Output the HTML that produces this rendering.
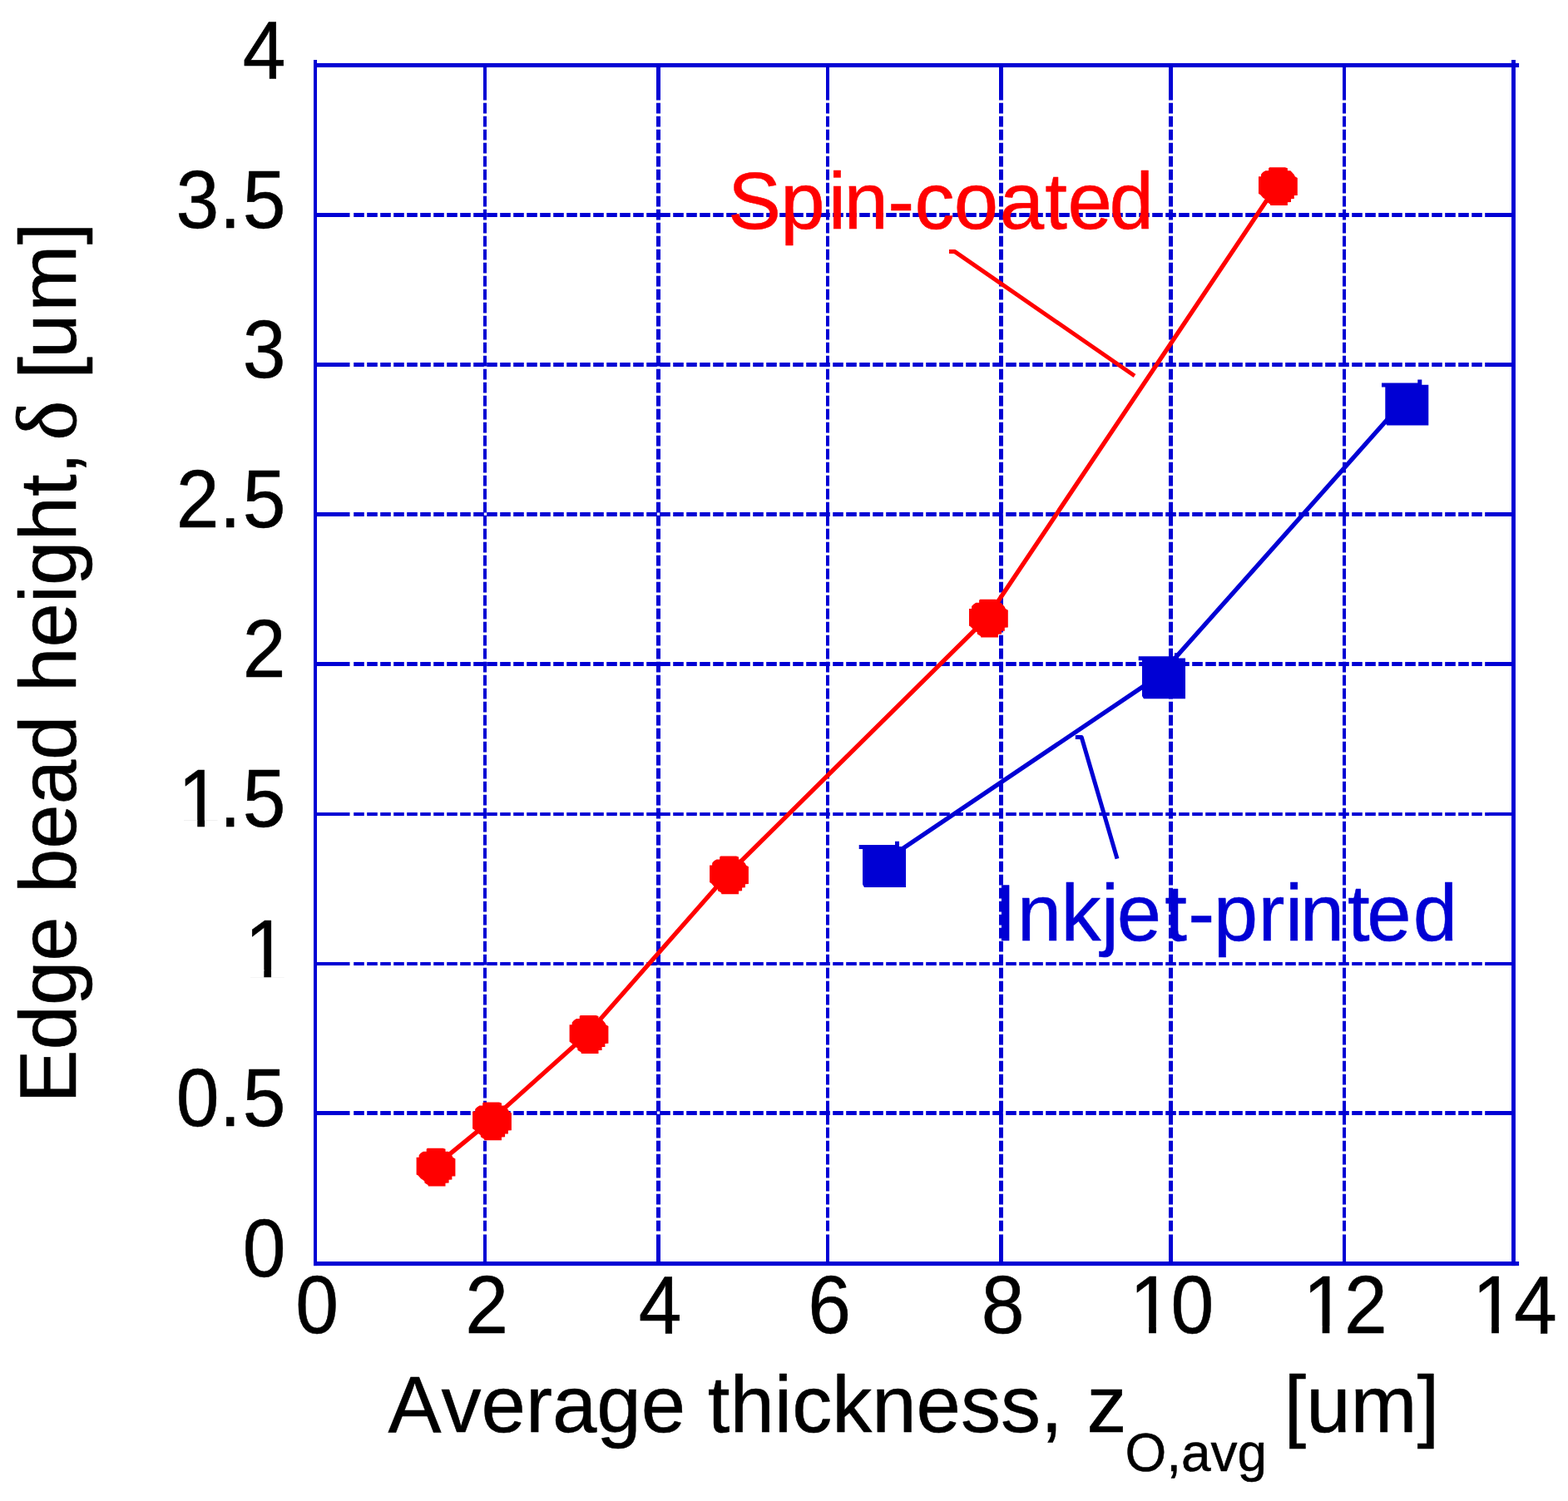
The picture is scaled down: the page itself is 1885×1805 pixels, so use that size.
<!DOCTYPE html>
<html lang="en"><head><meta charset="utf-8"><title>Edge bead height vs. average thickness</title>
<style>
html,body{margin:0;padding:0;background:#fff;}
body{width:1885px;height:1805px;overflow:hidden;}
svg{display:block;}
text{font-family:"Liberation Sans",sans-serif;font-size:96px;font-kerning:none;fill:#000;stroke:#000;stroke-width:0.5px;stroke-linejoin:round;}
.sym{font-family:"Liberation Serif","DejaVu Serif",serif;}
.red{fill:#ff0000;stroke:#ff0000;}
.blue{fill:#0000d4;stroke:#0000d4;}
.g{stroke:#0000d4;fill:none;stroke-dasharray:12.6 3.4;}
.t{stroke:#0000d4;fill:none;}
.m{fill:#fff;stroke:none;}
</style></head><body>
<svg xmlns="http://www.w3.org/2000/svg" width="1885" height="1805" viewBox="0 0 1885 1805">
<rect x="0" y="0" width="1885" height="1805" fill="#fff"/>
<g id="grid">
<g stroke-width="4">
<line class="g" x1="583" y1="123.8" x2="583" y2="1483.5"/>
<line class="t" x1="583" y1="78.5" x2="583" y2="120.5"/>
<line class="t" x1="583" y1="1484.5" x2="583" y2="1519.5"/>
</g>
<g stroke-width="5">
<line class="g" x1="791.5" y1="123.8" x2="791.5" y2="1483.5"/>
<line class="t" x1="791.5" y1="78.5" x2="791.5" y2="120.5"/>
<line class="t" x1="791.5" y1="1484.5" x2="791.5" y2="1519.5"/>
</g>
<g stroke-width="4">
<line class="g" x1="995" y1="123.8" x2="995" y2="1483.5"/>
<line class="t" x1="995" y1="78.5" x2="995" y2="120.5"/>
<line class="t" x1="995" y1="1484.5" x2="995" y2="1519.5"/>
</g>
<g stroke-width="5">
<line class="g" x1="1203.5" y1="123.8" x2="1203.5" y2="1483.5"/>
<line class="t" x1="1203.5" y1="78.5" x2="1203.5" y2="120.5"/>
<line class="t" x1="1203.5" y1="1484.5" x2="1203.5" y2="1519.5"/>
</g>
<g stroke-width="5">
<line class="g" x1="1407.5" y1="123.8" x2="1407.5" y2="1483.5"/>
<line class="t" x1="1407.5" y1="78.5" x2="1407.5" y2="120.5"/>
<line class="t" x1="1407.5" y1="1484.5" x2="1407.5" y2="1519.5"/>
</g>
<g stroke-width="4">
<line class="g" x1="1616" y1="123.8" x2="1616" y2="1483.5"/>
<line class="t" x1="1616" y1="78.5" x2="1616" y2="120.5"/>
<line class="t" x1="1616" y1="1484.5" x2="1616" y2="1519.5"/>
</g>
<g stroke-width="5">
<line class="g" x1="425.2" y1="258.5" x2="1790" y2="258.5"/>
<line class="t" x1="379" y1="258.5" x2="420.5" y2="258.5"/>
<line class="t" x1="1790" y1="258.5" x2="1820" y2="258.5"/>
</g>
<g stroke-width="5">
<line class="g" x1="425.2" y1="438.55" x2="1790" y2="438.55"/>
<line class="t" x1="379" y1="438.55" x2="420.5" y2="438.55"/>
<line class="t" x1="1790" y1="438.55" x2="1820" y2="438.55"/>
</g>
<g stroke-width="5">
<line class="g" x1="425.2" y1="618.5" x2="1790" y2="618.5"/>
<line class="t" x1="379" y1="618.5" x2="420.5" y2="618.5"/>
<line class="t" x1="1790" y1="618.5" x2="1820" y2="618.5"/>
</g>
<g stroke-width="5">
<line class="g" x1="425.2" y1="798.5" x2="1790" y2="798.5"/>
<line class="t" x1="379" y1="798.5" x2="420.5" y2="798.5"/>
<line class="t" x1="1790" y1="798.5" x2="1820" y2="798.5"/>
</g>
<g stroke-width="4">
<line class="g" x1="425.2" y1="978.9" x2="1790" y2="978.9"/>
<line class="t" x1="379" y1="978.9" x2="420.5" y2="978.9"/>
<line class="t" x1="1790" y1="978.9" x2="1820" y2="978.9"/>
</g>
<g stroke-width="4">
<line class="g" x1="425.2" y1="1159" x2="1790" y2="1159"/>
<line class="t" x1="379" y1="1159" x2="420.5" y2="1159"/>
<line class="t" x1="1790" y1="1159" x2="1820" y2="1159"/>
</g>
<g stroke-width="5">
<line class="g" x1="425.2" y1="1338.5" x2="1790" y2="1338.5"/>
<line class="t" x1="379" y1="1338.5" x2="420.5" y2="1338.5"/>
<line class="t" x1="1790" y1="1338.5" x2="1820" y2="1338.5"/>
</g>
</g>
<g id="axes" fill="#0000d4">
<rect x="377" y="72" width="4" height="1450.1"/>
<rect x="1817.05" y="72" width="4.9" height="1450.1"/>
<rect x="379" y="75.9" width="1447.1" height="5.1"/>
<rect x="377" y="1517" width="1449.1" height="5.1"/>
</g>
<defs>
<path id="dot" d="M-10.1,-22.9 L8.5,-22.9 L11.5,-21.9 L11.5,-18.9 L15,-18.9 L19.4,-14 L20.4,-11.8 L23.4,-10 L23.4,10.8 L19.4,11 L19.4,15 L15.6,15.1 L15.6,18.9 L11.5,19.1 L11.5,22.9 L-9.1,22.9 L-9.5,21.3 L-13.5,18.9 L-13.8,16.6 L-18.1,13.6 L-21.4,10 L-23.4,8.8 L-23.4,-11.8 L-20.4,-11.8 L-20.3,-14.6 L-18.1,-17 L-15.1,-18.9 L-11.3,-18.9 L-11.3,-21.9 Z"/>
<path id="sq" d="M-30.3,-25.5 H13 V-29.6 H18 V-23.4 H26 V25.5 H-24 L-26,22.2 V-20.5 H-30.3 Z"/>
</defs>
<g id="series">
<polyline points="522,1403.1 589.5,1347.9 706,1243.5 874.5,1051.8 1186.4,743.2 1534.4,223.6" fill="none" stroke="#ff0000" stroke-width="5.3" stroke-linejoin="round"/>
<polyline points="1058.3,1038.6 1394.3,812 1686.6,483.3" fill="none" stroke="#0000d4" stroke-width="5.3" stroke-linejoin="round"/>
<use href="#dot" x="524" y="1403.6" fill="#ff0000"/>
<use href="#dot" x="591.5" y="1348.4" fill="#ff0000"/>
<use href="#dot" x="708" y="1244" fill="#ff0000"/>
<use href="#dot" x="876.5" y="1052.3" fill="#ff0000"/>
<use href="#dot" x="1188.4" y="743.7" fill="#ff0000"/>
<use href="#dot" x="1536.4" y="224.1" fill="#ff0000"/>
<use href="#sq" x="1063" y="1041.4" fill="#0000d4"/>
<use href="#sq" x="1399" y="814.8" fill="#0000d4"/>
<use href="#sq" x="1691.3" y="486.1" fill="#0000d4"/>
</g>
<g id="leaders" fill="none" stroke-linejoin="round" stroke-width="5">
<polyline points="1141,302.4 1147.5,302.4 1364,452" stroke="#ff0000"/>
<polyline points="1292.8,886.5 1300.2,886.5 1343,1032.6" stroke="#0000d4"/>
</g>
<g id="ylabels">
<g transform="translate(0 94) scale(0.97 1.025)"><text x="300.72" y="0">4</text></g>
<g transform="translate(0 274) scale(0.97 1.025)"><text x="218.18 271.79 300.73" y="0">3.5</text></g>
<g transform="translate(0 454.05) scale(0.97 1.025)"><text x="300.72" y="0">3</text></g>
<g transform="translate(0 634) scale(0.97 1.025)"><text x="218.19 271.79 300.73" y="0">2.5</text></g>
<g transform="translate(0 814) scale(0.97 1.025)"><text x="300.73" y="0">2</text></g>
<g transform="translate(0 994.4) scale(0.97 1.025)"><text x="220.72 271.79 300.73" y="0">1.5</text><rect class="m" x="226.22" y="-8.1" width="18.39" height="9.4"/><rect class="m" x="253.6" y="-8.1" width="18" height="9.4"/></g>
<g transform="translate(0 1174.5) scale(0.97 1.025)"><text x="303.26" y="0">1</text><rect class="m" x="308.76" y="-8.1" width="18.39" height="9.4"/><rect class="m" x="336.14" y="-8.1" width="18" height="9.4"/></g>
<g transform="translate(0 1354) scale(0.97 1.025)"><text x="218.19 271.79 300.73" y="0">0.5</text></g>
<g transform="translate(0 1535) scale(0.97 1.025)"><text x="300.73" y="0">0</text></g>
</g>
<g id="xlabels">
<g transform="translate(0 1603) scale(0.97 1.025)"><text x="366.29" y="0">0</text></g>
<g transform="translate(0 1603) scale(0.97 1.025)"><text x="576.6" y="0">2</text></g>
<g transform="translate(0 1603) scale(0.97 1.025)"><text x="791.54" y="0">4</text></g>
<g transform="translate(0 1603) scale(0.97 1.025)"><text x="1001.36" y="0">6</text></g>
<g transform="translate(0 1603) scale(0.97 1.025)"><text x="1216.29" y="0">8</text></g>
<g transform="translate(0 1603) scale(0.97 1.025)"><text x="1399.97 1451.14" y="0">10</text><rect class="m" x="1405.47" y="-8.1" width="18.39" height="9.4"/><rect class="m" x="1432.85" y="-8.1" width="18" height="9.4"/></g>
<g transform="translate(0 1603) scale(0.97 1.025)"><text x="1614.92 1666.09" y="0">12</text><rect class="m" x="1620.42" y="-8.1" width="18.39" height="9.4"/><rect class="m" x="1647.8" y="-8.1" width="18" height="9.4"/></g>
<g transform="translate(0 1603) scale(0.97 1.025)"><text x="1824.71 1876.19" y="0">14</text><rect class="m" x="1830.21" y="-8.1" width="18.39" height="9.4"/><rect class="m" x="1857.59" y="-8.1" width="18" height="9.4"/></g>
</g>
<text id="xtitle" x="466.5" y="1721.8">Average thickness, <tspan x="1306.5">z</tspan><tspan font-size="64" dy="47" x="1352.4">O,avg</tspan><tspan dy="-47" x="1543.5">[um]</tspan></text>
<text id="ytitle" transform="translate(90.7 1326.5) rotate(-90)"><tspan x="0">Edge</tspan> <tspan x="252.4">bead</tspan> <tspan x="494.5">height,</tspan> <tspan class="sym" x="797" font-size="101" style="stroke-width:0.9px">δ</tspan> <tspan x="870.7 895.4 951.8 1032.2">[um]</tspan></text>
<text class="red" x="875 938.33 995.82 1014.45 1067.14 1099.61 1146.81 1201.7 1256.29 1283.46 1333.45" y="274.5">Spin-coated</text>
<text class="blue" x="1195.2 1222.67 1275.56 1323.76 1342.69 1400.28 1428.15 1458.72 1512.61 1544.98 1562.81 1620 1643.27 1698.86" y="1131">Inkjet-printed</text>
</svg>
</body></html>
